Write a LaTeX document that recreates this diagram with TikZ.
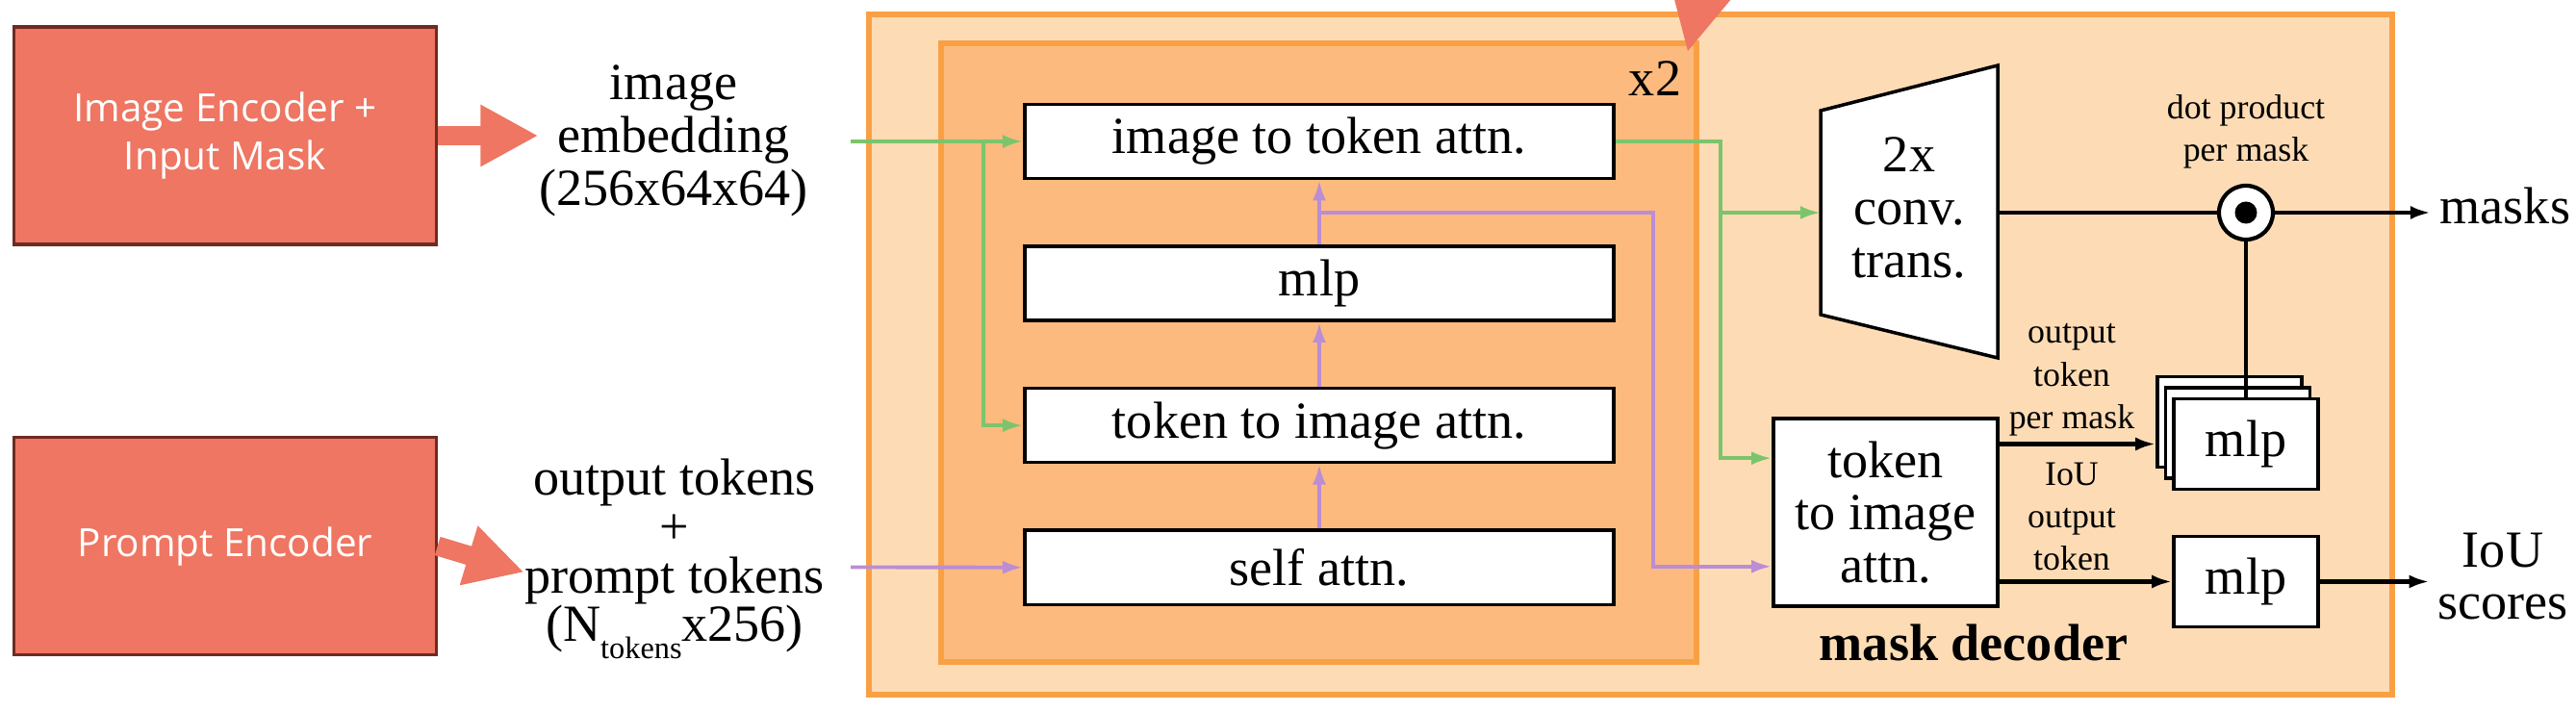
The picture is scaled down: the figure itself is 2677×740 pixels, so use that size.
\documentclass[tikz,border=0pt]{standalone}
\usepackage{fontspec}
\setmainfont{Liberation Serif}
\newfontfamily\encfont{Open Sans}
\usetikzlibrary{positioning, arrows.meta, calc}

\definecolor{encfill}{HTML}{EE7662}
\definecolor{encedge}{HTML}{6E2B22}
\definecolor{decfill}{HTML}{FDDCB5}
\definecolor{loopfill}{HTML}{FCBA7E}
\definecolor{decedge}{HTML}{F9A045}
\definecolor{imgline}{HTML}{7CC46C}
\definecolor{tokline}{HTML}{BB8DD4}

\newcommand{\bigtext}{\fontsize{15.4}{15.6}\selectfont}
\newcommand{\smalltext}{\fontsize{10.2}{12.6}\selectfont}

\begin{document}
\begin{tikzpicture}[x=0.01cm, y=-0.01cm, node distance=1.475cm, on grid,
    enc/.style={draw=encedge, line width=0.9pt, fill=encfill, text=white,
      font=\encfont\fontsize{11.5}{14.2}\selectfont, align=center,
      minimum width=4.38cm, minimum height=2.26cm, inner sep=0pt},
    bigarrow/.style={draw=encfill, line width=0.2cm, -{Triangle[length=0.6cm, width=0.6cm]}},
    blk/.style={draw, line width=1pt, fill=white, font=\bigtext, inner sep=0pt,
      minimum width=6.12cm, minimum height=0.77cm},
    mlpbox/.style={draw, line width=1pt, fill=white, font=\bigtext, inner sep=0pt,
      minimum width=1.5cm, minimum height=0.94cm},
    gline/.style={draw=imgline, line width=1.1pt, -{Latex[length=6pt, width=4pt]}},
    pline/.style={draw=tokline, line width=1.1pt, -{Latex[length=6pt, width=4pt]}},
    kline/.style={draw=black, line width=1.2pt},
    karrow/.style={kline, -{Latex[length=6pt, width=4pt]}},
    lbl/.style={font=\smalltext, align=center, inner sep=0pt},
  ]
   \useasboundingbox (0,0) rectangle (2677,740);
   \fill[white] (0,0) rectangle (2677,740);

   % Encoders and their outputs
   \node[enc] (enc) at (234,141) {Image Encoder +\\Input Mask};
   \node[enc] (prm) at (234,567.5) {Prompt Encoder};
   \node[font=\bigtext, align=center, inner sep=0pt] (emb) at (700,146) {image\\embedding\\(256x64x64)};
   \node[font=\fontsize{15.4}{14.4}\selectfont, align=center, inner sep=0pt] (tok) at (701,581)
     {output tokens\\+\\prompt tokens\\(N\raisebox{-0.33em}{\fontsize{9.2}{9.2}\selectfont tokens}x256)};

   % Mask decoder frame
   \node[draw=decedge, line width=1.7pt, fill=decfill, minimum width=15.83cm, minimum height=7.07cm] (dec) at (1694.5,368.5) {};
   \node[draw=decedge, line width=1.7pt, fill=loopfill, minimum width=7.85cm, minimum height=6.43cm] (loop) at (1370.5,366.5) {};
   \node[font=\bigtext, anchor=base] (x2) at (1720,100) {x2};
   \node[font=\bigtext\bfseries, anchor=base] (mdec) at (2051,687) {mask decoder};

   % Two-way transformer blocks
   \node[blk] (i2t) at (1371,147) {image to token attn.};
   \node[blk] (mlpa) [below=of i2t] {mlp};
   \node[blk] (t2i) [below=of mlpa] {token to image attn.};
   \node[blk] (sa) [below=of t2i] {self attn.};

   % Upscaling and heads
   \draw[line width=1pt, fill=white] (1892,115) -- (2076,68) -- (2076,372) -- (1892,327) -- cycle;
   \node[font=\bigtext, align=center] (conv) at (1984,216) {2x\\conv.\\trans.};
   \coordinate (convL) at (1892,221);
   \coordinate (convR) at (2076,221);
   \node[draw, line width=1pt, fill=white, font=\bigtext, align=center, inner sep=0pt,
     minimum width=2.33cm, minimum height=1.95cm] (t2ib) at (1959.5,532.5) {token\\to image\\attn.};
   \node[mlpbox] (m3) at (2317,438.5) {};
   \node[mlpbox] (m2) at ([shift={(8.5,11.5)}]m3) {};
   \node[mlpbox] (m1) at ([shift={(8.5,11.5)}]m2) {mlp};
   \node[mlpbox] (mlpi) at (2334,604.5) {mlp};
   \node[circle, draw, line width=1.2pt, fill=white, minimum size=0.56cm, inner sep=0pt] (dp) at (2334,221) {};
   \fill (dp) circle[radius=0.115cm];

   % Labels
   \node[lbl] (dplbl) at (2334,137) {dot product\\per mask};
   \node[lbl] (pmlbl) at (2153,395) {output\\token\\per mask};
   \node[lbl] (ioulbl) at (2153,537) {IoU\\output\\token};
   \node[font=\bigtext, anchor=base west, inner sep=0pt] (masks) at (2535,233) {masks};
   \node[font=\bigtext, align=center, inner sep=0pt] (iou) at (2601,599) {IoU\\scores};

   % Block arrows
   \draw[bigarrow] (enc.east) -- (enc.east -| emb.west);
   \draw[bigarrow] (prm.east) -- (tok.185);
   \fill[encfill] (1754,53) -- (1735,-20) -- (1815,-20) -- cycle;

   % Image embedding path
   \coordinate (gin) at (884,147);
   \coordinate (gsplit) at (1022,147);
   \coordinate (gturn) at (1788,147);
   \draw[gline] (gin) -- (i2t.west);
   \draw[gline] (gsplit) |- (t2i.west);
   \draw[gline] (i2t.east) -- (gturn) |- ([yshift=-0.43cm]t2ib.north west);
   \draw[gline] (convL -| gturn) -- (convL);

   % Token path
   \coordinate (pin) at (884,589.5);
   \coordinate (pturn) at (1718,221);
   \draw[pline] (pin) -- (sa.west);
   \draw[pline] (sa) -- (t2i);
   \draw[pline] (t2i) -- (mlpa);
   \draw[pline] (mlpa) -- (i2t);
   \coordinate (psplit) at ($(mlpa.north)!0.5!(i2t.south)$);
   \draw[pline] (psplit) -- (psplit -| pturn) |- ([yshift=0.43cm]t2ib.south west);

   % Outputs
   \draw[kline] (convR) -- (dp);
   \draw[karrow, shorten >=0.09cm] (dp) -- (dp -| masks.west);
   \draw[kline] (dp) -- (dp |- m1.north);
   \draw[karrow] (t2ib.east |- m1) -- (m3.west |- m1);
   \draw[karrow] (t2ib.east |- mlpi) -- (mlpi);
   \draw[karrow, shorten >=0.08cm] (mlpi) -- (mlpi -| iou.west);
\end{tikzpicture}
\end{document}
